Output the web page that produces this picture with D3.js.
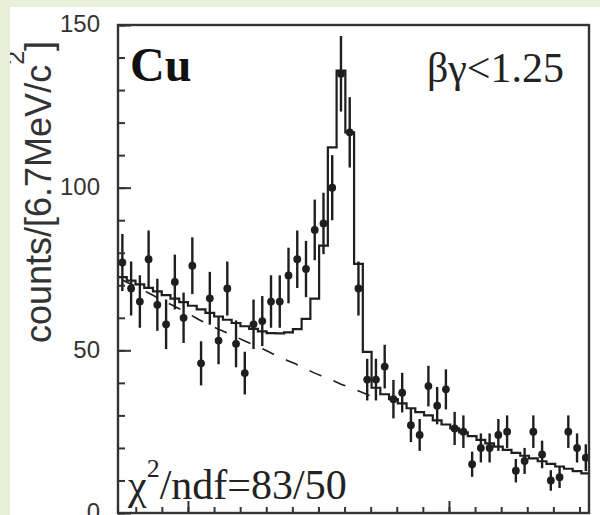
<!DOCTYPE html>
<html>
<head>
<meta charset="utf-8">
<script src="https://cdn.jsdelivr.net/npm/d3@7/dist/d3.min.js"></script>
<style>
  html, body { margin: 0; padding: 0; background: #ffffff; }
  svg { display: block; }
</style>
</head>
<body>
<svg id="chart" width="600" height="515"></svg>
<script>
// e+e- invariant mass, Cu target, betagamma < 1.25 ; bins of 6.7 MeV/c^2 (mass in GeV/c^2)
const binLow = 0.8464;
const binWidth = 0.0067;

// measured counts per bin
const counts = [77, 69, 65, 78, 64, 58, 71, 60, 76, 46,
                66, 53, 69, 52, 43, 58, 59, 65, 65, 73,
                78, 75, 87, 89, 100, 135, 117, 69, 41, 41,
                45, 35, 37, 27, 24, 39, 33, 38, 26, 25,
                15, 20, 20, 24, 25, 13, 16, 25, 18, 10,
                11, 25, 20, 17];

// fitted spectrum (signal + background) per bin
const fitValues = [72.5, 71.4, 70.3, 69.2, 68.1, 67.0, 65.9, 64.8, 63.7, 62.6,
                   61.5, 60.4, 59.4, 58.4, 57.4, 56.6, 55.8, 55.3, 55.2, 55.5,
                   56.5, 59.7, 65.9, 82.2, 112.4, 136.0, 117.0, 76.6, 49.5, 38.5,
                   36.5, 35.0, 33.7, 32.2, 31.0, 30.0, 28.5, 27.2, 26.0, 24.8,
                   23.6, 22.5, 21.4, 20.4, 19.4, 18.5, 17.6, 16.8, 15.9, 15.1,
                   14.3, 13.6, 12.9, 12.2];

// background component of the fit, at the centres of the first bins
const bkgValues = [71.6, 70.3, 69.0, 67.6, 66.2, 64.8, 63.5, 62.1, 60.6, 59.1,
                   57.8, 56.5, 55.3, 54.1, 52.9, 51.7, 50.5, 49.2, 48.0, 46.7,
                   45.6, 44.3, 43.0, 41.9, 40.8, 39.6, 38.6, 37.5, 36.4, 35.3];

// axis ticks
const yTicks = [0, 10, 20, 30, 40, 50, 60, 70, 80, 90, 100, 110, 120, 130, 140, 150];
const yLabels = [0, 50, 100, 150];
const xTicks = [0.86, 0.88, 0.90, 0.92, 0.94, 0.96, 0.98, 1.00, 1.02, 1.04,
                1.06, 1.08, 1.10, 1.12, 1.14, 1.16, 1.18, 1.20];
const xMajor = [0.90, 1.10];

const ink = "#1e1e1e";
const frameInk = "#333333";

const svg = d3.select("#chart");
const frame = { left: 118, right: 589, top: 25, bottom: 513 };

const x = d3.scaleLinear().domain([0.8464, 1.2073]).range([frame.left, frame.right]);
const y = d3.scaleLinear().domain([0, 150]).range([frame.bottom, frame.top]);

svg.append("defs").append("clipPath").attr("id", "plotClip")
  .append("rect")
  .attr("x", frame.left).attr("y", frame.top)
  .attr("width", frame.right - frame.left).attr("height", frame.bottom - frame.top);

const plot = svg.append("g").attr("clip-path", "url(#plotClip)");

// fit drawn as a histogram outline
const steps = fitValues.map((v, i) => [binLow + i * binWidth, v]);
steps.push([binLow + fitValues.length * binWidth, fitValues[fitValues.length - 1]]);
plot.append("path")
  .attr("d", d3.line().x(d => x(d[0])).y(d => y(d[1])).curve(d3.curveStepAfter)(steps))
  .attr("fill", "none").attr("stroke", ink).attr("stroke-width", 2.2);

// background component, dashed
const bkg = bkgValues.map((v, i) => [binLow + (i + 0.5) * binWidth, v]);
plot.append("path")
  .attr("d", d3.line().x(d => x(d[0])).y(d => y(d[1])).curve(d3.curveMonotoneX)(bkg))
  .attr("fill", "none").attr("stroke", ink).attr("stroke-width", 1.6)
  .attr("stroke-dasharray", "13,13");

// data points with Poisson error bars
const pts = counts.map((c, i) => ({ m: binLow + (i + 0.5) * binWidth, c }));
plot.append("g").selectAll("line").data(pts).join("line")
  .attr("x1", d => x(d.m)).attr("x2", d => x(d.m))
  .attr("y1", d => y(d.c + Math.sqrt(d.c))).attr("y2", d => y(d.c - Math.sqrt(d.c)))
  .attr("stroke", ink).attr("stroke-width", 2.4);
plot.append("g").selectAll("circle").data(pts).join("circle")
  .attr("cx", d => x(d.m)).attr("cy", d => y(d.c)).attr("r", 3.9)
  .attr("fill", ink);

// frame
svg.append("rect")
  .attr("x", frame.left).attr("y", frame.top)
  .attr("width", frame.right - frame.left).attr("height", frame.bottom - frame.top)
  .attr("fill", "none").attr("stroke", frameInk).attr("stroke-width", 2.4);

// y axis: minor ticks, then labelled major ticks
const yMinorAxis = d3.axisLeft(y).tickValues(yTicks).tickSizeInner(-7).tickSizeOuter(0).tickFormat("");
const yMajorAxis = d3.axisLeft(y).tickValues(yLabels).tickSizeInner(-13).tickSizeOuter(0)
  .tickPadding(18).tickFormat(d3.format("d"));
[yMinorAxis, yMajorAxis].forEach(ax => {
  const g = svg.append("g").attr("transform", `translate(${frame.left},0)`).call(ax);
  g.select(".domain").remove();
  g.selectAll(".tick line").attr("stroke", frameInk).attr("stroke-width", 2);
  g.selectAll(".tick text")
    .attr("fill", "#333").attr("font-family", "'Liberation Sans', Arial, sans-serif")
    .attr("font-size", 24).attr("dy", "0.28em");
});

// x axis ticks (labels lie below the visible area)
const xMinorAxis = d3.axisBottom(x).tickValues(xTicks).tickSizeInner(-6).tickSizeOuter(0).tickFormat("");
const xMajorAxis = d3.axisBottom(x).tickValues(xMajor).tickSizeInner(-12).tickSizeOuter(0).tickFormat("");
[xMinorAxis, xMajorAxis].forEach(ax => {
  const g = svg.append("g").attr("transform", `translate(0,${frame.bottom})`).call(ax);
  g.select(".domain").remove();
  g.selectAll(".tick line").attr("stroke", frameInk).attr("stroke-width", 2);
});

// y title
const yt = svg.append("text")
  .attr("transform", "rotate(-90)")
  .attr("x", -343).attr("y", 51)
  .attr("fill", "#333").attr("font-family", "'Liberation Sans', Arial, sans-serif")
  .attr("font-size", 36);
yt.append("tspan").text("counts/[6.7MeV/c");
yt.append("tspan").attr("font-size", 25).attr("dy", -27).text("2");
yt.append("tspan").attr("dy", 27).text("]");

// labels inside the frame
const serif = "'Liberation Serif', 'Times New Roman', serif";
svg.append("text").attr("x", 130).attr("y", 81)
  .attr("font-family", serif).attr("font-weight", "bold").attr("font-size", 48)
  .attr("fill", "#111").text("Cu");

svg.append("text").attr("x", 564).attr("y", 82).attr("text-anchor", "end")
  .attr("font-family", serif).attr("font-size", 42)
  .attr("fill", "#222").text("βγ<1.25");

const chi = svg.append("text").attr("x", 128).attr("y", 499)
  .attr("font-family", serif).attr("font-size", 42).attr("fill", "#222");
chi.append("tspan").text("χ");
chi.append("tspan").attr("font-size", 26).attr("dy", -22).text("2");
chi.append("tspan").attr("dy", 22).text("/ndf=83/50");

// page border strips
svg.append("rect").attr("x", 0).attr("y", 0).attr("width", 600).attr("height", 7).attr("fill", "#e8f0dc");
svg.append("rect").attr("x", 0).attr("y", 0).attr("width", 10).attr("height", 515).attr("fill", "#e8f0dc");
</script>
</body>
</html>
